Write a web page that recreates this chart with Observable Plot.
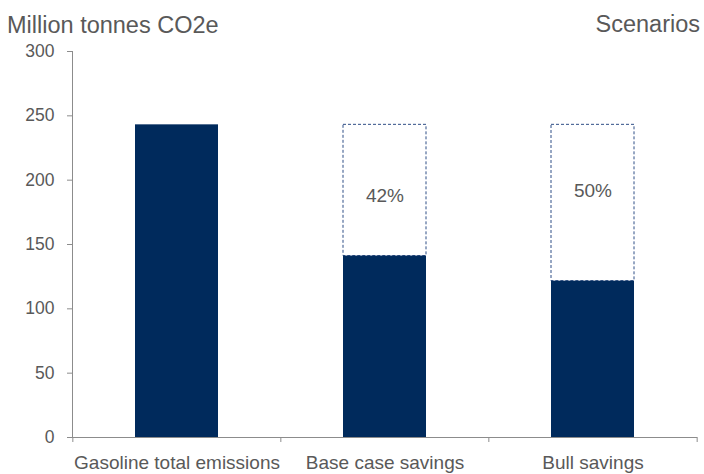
<!DOCTYPE html>
<html>
<head>
<meta charset="utf-8">
<script src="https://cdn.jsdelivr.net/npm/d3@7"></script>
<script src="https://cdn.jsdelivr.net/npm/@observablehq/plot@0.6"></script>
<style>
  html, body { margin: 0; padding: 0; background: #fff; }
  body { width: 704px; height: 474px; overflow: hidden; font-family: "Liberation Sans", Arial, sans-serif; }
  .header { position: relative; height: 40px; color: #595959; font-size: 23.5px; line-height: 27px; }
  .header .left { position: absolute; left: 7px; top: 12px; }
  .header .right { position: absolute; right: 4px; top: 11px; }
</style>
</head>
<body>
<div class="header"><span class="left">Million tonnes CO2e</span><span class="right">Scenarios</span></div>
<div id="chart"></div>
<script>
const categories = ["Gasoline total emissions", "Base case savings", "Bull savings"];
const remaining = [243, 141, 121.5];
const baseline = [null, 243, 243];
const savingsLabels = [null, "42%", "50%"];
const labelValues = [null, 188, 192];
const yTicks = [0, 50, 100, 150, 200, 250, 300];

const W = 704, H = 434, mL = 72, mR = 7, mT = 11, mB = 37;
const step = (W - mL - mR) / categories.length;

const rows = categories.map((c, i) => ({
  cat: c, remaining: remaining[i], baseline: baseline[i],
  label: savingsLabels[i], labelY: labelValues[i]
}));
const scen = rows.filter(d => d.baseline != null);

const navy = "#002A5C";
const gray = "#595959";
const axisGray = "#8C8C8C";

const chart = Plot.plot({
  width: W, height: H,
  marginLeft: mL, marginRight: mR, marginTop: mT, marginBottom: mB,
  style: { fontFamily: "Liberation Sans, Arial, sans-serif", fontSize: "17px", color: gray, background: "#fff", overflow: "visible" },
  x: { domain: categories, paddingInner: 0.6, paddingOuter: 0.3, label: null },
  y: { domain: [0, 300], label: null },
  marks: [
    Plot.barY(scen, { x: "cat", y1: "remaining", y2: "baseline", fill: "#fff", stroke: "#2F4F86", strokeWidth: 1, strokeDasharray: "3,2" }),
    Plot.barY(rows, { x: "cat", y: "remaining", fill: navy }),
    Plot.text(scen, { x: "cat", y: "labelY", text: "label", fill: gray, fontSize: 19 }),
    Plot.frame({ anchor: "left", stroke: axisGray }),
    Plot.ruleY([0], { stroke: axisGray }),
    Plot.ruleX(categories, { x: d => d, y1: 0, y2: 0, insetBottom: -5, dx: -step / 2, stroke: axisGray }),
    Plot.ruleX(categories.slice(-1), { x: d => d, y1: 0, y2: 0, insetBottom: -5, dx: step / 2, stroke: axisGray }),
    Plot.axisY({ ticks: yTicks, tickSize: 5, tickPadding: 13, stroke: axisGray, fill: gray, fontSize: 17.5 }),
    Plot.axisX({ tickSize: 0, tickPadding: 18, fill: gray, fontSize: 19 })
  ]
});
document.getElementById("chart").appendChild(chart);
</script>
</body>
</html>
